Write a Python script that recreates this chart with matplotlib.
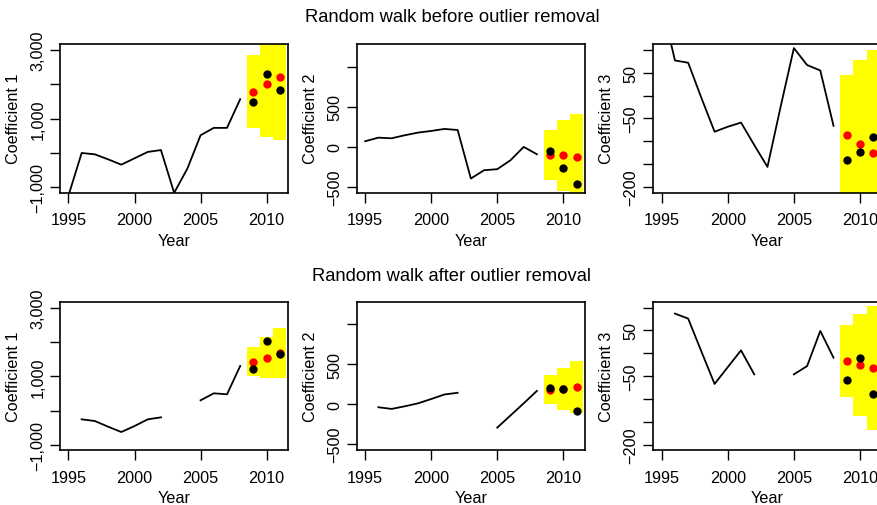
import matplotlib.pyplot as plt
import numpy as np

plt.rcParams['font.family'] = ['Liberation Sans', 'DejaVu Sans']

nan = np.nan
years = np.arange(1995, 2009)
fc_years = np.array([2009, 2010, 2011])

# before outlier removal
c1_before = [-1240, 0, -40, -185, -340, -155, 30, 85, -1160, -455, 515, 730, 730, 1565]
c2_before = [67, 112, 104, 142, 175, 196, 221, 208, -400, -296, -283, -171, -4, -96]
c3_before = [200, 77, 72, -5, -79, -68, -59, -108, -156, -24, 104, 67, 55, -66]
c1_before_red = [1777, 2000, 2223]
c1_before_black = [1485, 2291, 1845]
c2_before_red = [-108, -108, -125]
c2_before_black = [-54, -262, -471]
c3_before_red = [-86, -105, -126]
c3_before_black = [-141, -124, -90]
c1_before_lo, c1_before_hi = [718, 476, 369], [2854, 3400, 3500]
c2_before_lo, c2_before_hi = [-421, -554, -650], [204, 329, 404]
c3_before_lo, c3_before_hi = [-240, -240, -240], [45, 78, 100]

# after outlier removal
c1_after = [nan, -252, -301, -466, -621, -447, -252, -194, nan, nan, 301, 505, 476, 1301]
c2_after = [nan, -37, -58, -25, 12, 66, 123, 144, nan, nan, -292, -140, 12, 168]
c3_after = [nan, 87, 76, 4, -67, -30, 6.5, -46, nan, nan, -46, -28, 49, -9.5]
c1_after_red = [1417, 1544, 1689]
c1_after_black = [1204, 2029, 1660]
c2_after_red = [181, 195, 218]
c2_after_black = [210, 193, -90]
c3_after_red = [-17, -25.5, -33]
c3_after_black = [-58, -9.5, -88]
c1_after_lo, c1_after_hi = [1010, 942, 942], [1854, 2146, 2398]
c2_after_lo, c2_after_hi = [0, -66, -107], [362, 456, 538]
c3_after_lo, c3_after_hi = [-95, -137, -167], [62, 85, 103]

ylims = [(-1150, 3170), (-575, 1285), (-212, 113)]
yticks = [[-1000, 0, 1000, 2000, 3000],
          [-500, 0, 500, 1000],
          [-200, -150, -100, -50, 0, 50, 100]]
yticklabels = [["\u22121,000", "", "1,000", "", "3,000"],
               ["\u2212500", "0", "500", ""],
               ["\u2212200", "", "", "\u221250", "", "50", ""]]

rows = [
    [(c1_before, c1_before_red, c1_before_black, c1_before_lo, c1_before_hi),
     (c2_before, c2_before_red, c2_before_black, c2_before_lo, c2_before_hi),
     (c3_before, c3_before_red, c3_before_black, c3_before_lo, c3_before_hi)],
    [(c1_after, c1_after_red, c1_after_black, c1_after_lo, c1_after_hi),
     (c2_after, c2_after_red, c2_after_black, c2_after_lo, c2_after_hi),
     (c3_after, c3_after_red, c3_after_black, c3_after_lo, c3_after_hi)],
]

W, H = 877, 506
fig = plt.figure(figsize=(W / 100, H / 100), dpi=100)
lefts = [60, 356.7, 653.3]
tops = [45, 302.7]
aw, ah = 228.3, 148.5
fs = 11.7

for r, row in enumerate(rows):
    for c, (line, red, black, lo, hi) in enumerate(row):
        ax = fig.add_axes([lefts[c] / W, 1 - (tops[r] + ah) / H, aw / W, ah / H])
        ax.bar(fc_years, np.array(hi) - np.array(lo), bottom=lo, width=1.0,
               color='#FFFF00', linewidth=0, zorder=1)
        ax.plot(years, line, color='black', lw=1.3, zorder=2)
        ax.plot(fc_years, red, 'o', color='#FF0000', ms=6, mec='none', zorder=3)
        ax.plot(fc_years, black, 'o', color='black', ms=6, mec='none', zorder=4)
        ax.set_xlim(1994.36, 2011.64)
        ax.set_ylim(*ylims[c])
        ax.set_xticks([1995, 2000, 2005, 2010])
        ax.set_yticks(yticks[c])
        ax.set_yticklabels(yticklabels[c], rotation=90, va='center')
        ax.tick_params(length=7, width=1, labelsize=fs, direction='out')
        ax.tick_params(axis='x', pad=7)
        ax.tick_params(axis='y', pad=3.5)
        for s in ax.spines.values():
            s.set_linewidth(1.2)
        ax.set_xlabel("Year", fontsize=fs)
        ax.set_ylabel("Coefficient %d" % (c + 1), fontsize=fs)
        ax.xaxis.set_label_coords(0.5, -0.27)
        ax.yaxis.set_label_coords(-0.17, 0.5)

fig.text(452 / W, 1 - 21.7 / H, "Random walk before outlier removal",
         ha='center', va='baseline', fontsize=13.2)
fig.text(452 / W, 1 - 280.7 / H, "Random walk after outlier removal",
         ha='center', va='baseline', fontsize=13.2)

fig.savefig("out.png", dpi=100)
